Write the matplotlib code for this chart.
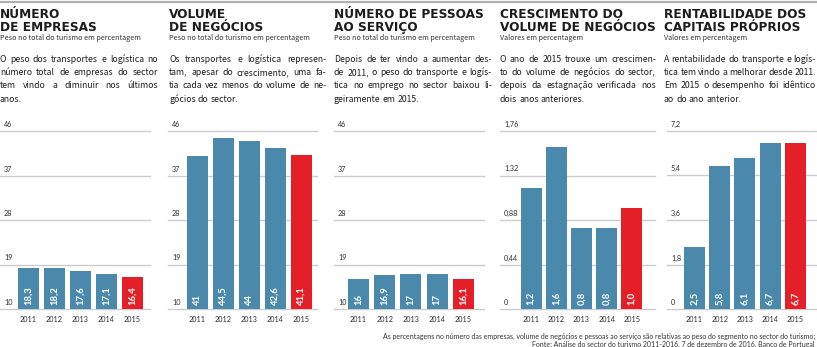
import matplotlib
matplotlib.use("Agg")
import matplotlib.pyplot as plt
import matplotlib.transforms as mtransforms

W, H = 817, 347

# dados
anos = ['2011', '2012', '2013', '2014', '2015']

empresas = [18.3, 18.2, 17.6, 17.1, 16.4]
empresas_lbl = ['18,3', '18,2', '17,6', '17,1', '16,4']
negocios = [41, 44.5, 44, 42.6, 41.1]
negocios_lbl = ['41', '44,5', '44', '42,6', '41,1']
pessoas = [16, 16.9, 17, 17, 16.1]
pessoas_lbl = ['16', '16,9', '17', '17', '16,1']
crescimento = [1.2, 1.6, 0.8, 0.8, 1.0]
crescimento_lbl = ['1,2', '1,6', '0,8', '0,8', '1,0']
rentab = [2.5, 5.8, 6.1, 6.7, 6.7]
rentab_lbl = ['2,5', '5,8', '6,1', '6,7', '6,7']

ticks_peso = [10, 19, 28, 37, 46]
ticks_peso_lbl = ['10', '19', '28', '37', '46']
ticks_cresc = [0, 0.44, 0.88, 1.32, 1.76]
ticks_cresc_lbl = ['0', '0,44', '0,88', '1,32', '1,76']
ticks_rent = [0, 1.8, 3.6, 5.4, 7.2]
ticks_rent_lbl = ['0', '1,8', '3,6', '5,4', '7,2']

titulos = [['NÚMERO', 'DE EMPRESAS'], ['VOLUME', 'DE NEGÓCIOS'], ['NÚMERO DE PESSOAS', 'AO SERVIÇO'],
           ['CRESCIMENTO DO', 'VOLUME DE NEGÓCIOS'], ['RENTABILIDADE DOS', 'CAPITAIS PRÓPRIOS']]
subtitulos = ['Peso no total do turismo em percentagem'] * 3 + ['Valores em percentagem'] * 2
textos = [
    ['O peso dos transportes e logística no', 'número total de empresas do sector',
     'tem vindo a diminuir nos últimos', 'anos.'],
    ['Os transportes e logística represen-', 'tam, apesar do crescimento, uma fa-',
     'tia cada vez menos do volume de ne-', 'gócios do sector.'],
    ['Depois de ter vindo a aumentar des-', 'de 2011, o peso do transporte e logís-',
     'tica no emprego no sector baixou li-', 'geiramente em 2015.'],
    ['O ano de 2015 trouxe um crescimen-', 'to do volume de negócios do sector,',
     'depois da estagnação verificada nos', 'dois anos anteriores.'],
    ['A rentabilidade do transporte e logís-', 'tica tem vindo a melhorar desde 2011.',
     'Em 2015 o desempenho foi idêntico', 'ao do ano anterior.'],
]
nota = ['As percentagens no número das empresas, volume de negócios e pessoas ao serviço '
        'são relativas ao peso do segmento no sector do turismo;',
        'Fonte: Análise do sector do turismo 2011-2016, 7 de dezembro de 2016, Banco de Portugal']

series = [(empresas, empresas_lbl, ticks_peso, ticks_peso_lbl),
          (negocios, negocios_lbl, ticks_peso, ticks_peso_lbl),
          (pessoas, pessoas_lbl, ticks_peso, ticks_peso_lbl),
          (crescimento, crescimento_lbl, ticks_cresc, ticks_cresc_lbl),
          (rentab, rentab_lbl, ticks_rent, ticks_rent_lbl)]

# geometria (px): inicio da grelha, largura, centro da 1a barra, passo
paineis = [(0, 150, 28.5, 26), (168, 149, 29.5, 26), (334, 150, 24.5, 26.2),
           (500, 155, 31, 25.2), (667, 150, 27.5, 25.2)]
texto_x = [0, 169, 334, 500, 664]
texto_larg = [158, 157, 158, 156, 152]

AZUL = '#4a89ab'
VERMELHO = '#e51f27'
GRELHA = '#cccccc'
ESCURO = '#2b2b2b'
CORPO = ['Noto Sans CJK SC', 'DejaVu Sans']
PEQ = ['Lato', 'DejaVu Sans']

fig = plt.figure(figsize=(W / 100, H / 100), dpi=100)
fig.patch.set_facecolor('white')
renderer = fig.canvas.get_renderer()


def fy(y):
    return 1 - y / H


def largura(s, fs, fam=CORPO):
    t = fig.text(0, 0, s, fontsize=fs, family=fam)
    w = t.get_window_extent(renderer).width
    t.remove()
    return w


# linha cinzenta no topo
fig.add_artist(plt.Line2D([0, 1], [fy(1.5), fy(1.5)], color='#b0b0b0', lw=1.6,
                          transform=fig.transFigure))

y_base, y_topo = 309, 131
for i, (vals, lbls, ticks, tlbls) in enumerate(series):
    x0, w, c, passo = paineis[i]
    ax = fig.add_axes([x0 / W, (H - y_base) / H, w / W, (y_base - y_topo) / H])
    ax.set_xlim(-c / passo, (w - c) / passo)
    ax.set_ylim(ticks[0], ticks[-1])
    for s in ax.spines.values():
        s.set_visible(False)
    ax.set_xticks([])
    ax.set_yticks([])
    ax.patch.set_alpha(0)
    for t in ticks:
        ax.axhline(t, color=GRELHA, lw=1, zorder=0, clip_on=False)
    trans = mtransforms.blended_transform_factory(ax.transAxes, ax.transData)
    off = mtransforms.offset_copy(trans, fig=fig, x=4, y=3, units='dots')
    for t, tl in zip(ticks, tlbls):
        ax.text(0, t, tl, transform=off, fontsize=5.2, color=ESCURO, va='bottom', ha='left',
                family=PEQ)
    cores = [AZUL] * 4 + [VERMELHO]
    pos = list(range(len(anos)))
    ax.bar(pos, [v - ticks[0] for v in vals], bottom=ticks[0], width=21 / passo,
           color=cores, zorder=2)
    off_lbl = mtransforms.offset_copy(ax.transData, fig=fig, x=0, y=4, units='dots')
    for p, l in zip(pos, lbls):
        ax.text(p, ticks[0], l, transform=off_lbl, rotation=90, color='white',
                fontsize=6.8, fontweight='bold', ha='center', va='bottom', family=PEQ,
                zorder=3)
    off_ano = mtransforms.offset_copy(ax.transData, fig=fig, x=0, y=-11, units='dots')
    for p, a in zip(pos, anos):
        ax.text(p, ticks[0], a, transform=off_ano, fontsize=5.2, color=ESCURO,
                ha='center', va='center', family=PEQ)

# titulos e subtitulos
for i in range(5):
    tx = texto_x[i] / W
    for k, linha in enumerate(titulos[i]):
        fig.text(tx, fy(18.5 + 12.5 * k), linha, fontsize=8.7, fontweight='bold',
                 color='#1c1c1c', va='baseline', ha='left', family='DejaVu Sans')
    fig.text(tx, fy(38), subtitulos[i], fontsize=5.2, color='#333333', va='center',
             ha='left', family=CORPO)

# texto corrido justificado, tamanho escolhido para caber na coluna
fs0 = 7.8
esp0 = largura('a a', fs0) - largura('aa', fs0)
escala = 1.0
for i in range(5):
    for linha in textos[i]:
        palavras = linha.split(' ')
        nat = sum(largura(p, fs0) for p in palavras) + 0.85 * esp0 * (len(palavras) - 1)
        escala = min(escala, texto_larg[i] / nat)
fs_corpo = fs0 * escala
espaco = esp0 * escala

for i in range(5):
    for k, linha in enumerate(textos[i]):
        palavras = linha.split(' ')
        larg = [largura(p, fs_corpo) for p in palavras]
        ultima = k == len(textos[i]) - 1
        if ultima or len(palavras) == 1:
            gap = espaco
        else:
            gap = max((texto_larg[i] - sum(larg)) / (len(palavras) - 1), 0.85 * espaco)
        x = texto_x[i]
        for p, lp in zip(palavras, larg):
            fig.text(x / W, fy(59 + 13.5 * k), p, fontsize=fs_corpo, color='#1e1e1e',
                     va='center', ha='left', family=CORPO)
            x += lp + gap

for k, linha in enumerate(nota):
    fig.text(815 / W, fy(336 + 8 * k), linha, fontsize=5.0, color='#333333',
             ha='right', va='center', family=PEQ)

fig.savefig('out.png', dpi=100)
